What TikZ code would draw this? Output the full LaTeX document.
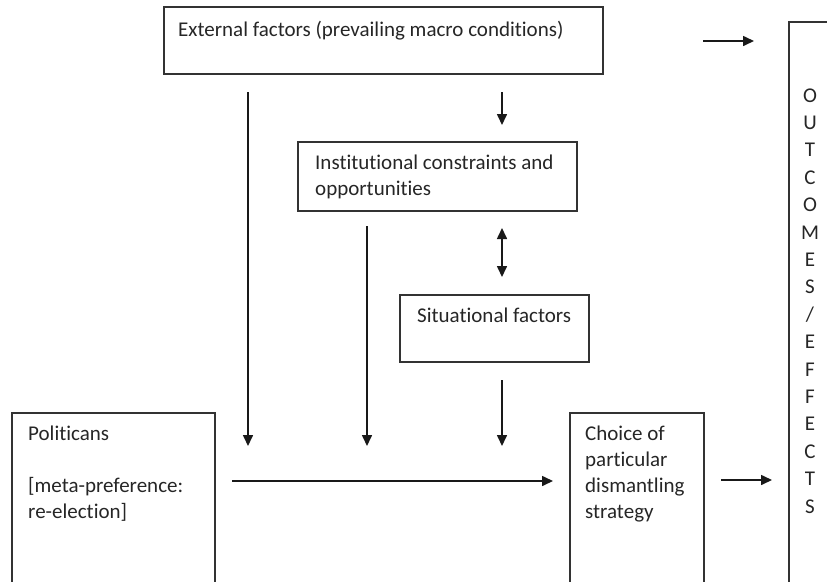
\documentclass[tikz,border=0pt]{standalone}
\usepackage{fontspec}
\setmainfont{Carlito}[Ligatures=NoCommon]
\usetikzlibrary{arrows.meta}
\begin{document}
\begin{tikzpicture}[x=1pt,y=-1pt,
  box/.style={draw=black!80,line width=1.3pt,inner sep=0pt,outer sep=0pt,anchor=north west},
  txt/.style={anchor=base west,inner sep=0pt,align=left,text=black!85,font=\fontsize{21}{26}\selectfont},
  tip/.tip={Triangle[length=11pt,width=10pt]},
  arr/.style={draw=black!90,line width=1.6pt,-tip},
  darr/.style={draw=black!90,line width=1.6pt,tip-tip}]
\useasboundingbox (0,0) rectangle (827,581);
\clip (0,0) rectangle (827,581);
% boxes
\node[box,minimum width=439pt,minimum height=67pt] (ext) at (164,7) {};
\node[box,minimum width=279pt,minimum height=69pt] (inst) at (298,142) {};
\node[box,minimum width=189pt,minimum height=67pt] (sit) at (400,295) {};
\node[box,minimum width=203pt,minimum height=220pt] (pol) at (12,413) {};
\node[box,minimum width=134pt,minimum height=220pt] (cho) at (570,413) {};
\node[box,minimum width=100pt,minimum height=620pt] (out) at (789,22) {};
% texts (multi-line texts are placed by the baseline of their last line)
\node[txt] (extT) at (178,36) {External factors (prevailing macro conditions)};
\node[txt] (instT) at (315,195) {Institutional constraints and\\opportunities};
\node[txt] (sitT) at (417,322) {Situational factors};
\node[txt] (polT) at (28,518) {Politicans\\[26pt][meta-preference:\\re-election]};
\node[txt] (choT) at (585,518) {Choice of\\particular\\dismantling\\strategy};
\node[txt,anchor=base,align=center,font=\fontsize{21}{27.4}\selectfont] (outT) at (810,513)
  {O\\U\\T\\C\\O\\M\\E\\S\\/\\E\\F\\F\\E\\C\\T\\S};
% connector end points
\coordinate (a1s) at (248,92);  \coordinate (a1e) at (248,446);
\coordinate (a2s) at (502,92);  \coordinate (a2e) at (502,125);
\coordinate (a3s) at (367,226); \coordinate (a3e) at (367,446);
\coordinate (a4s) at (502,228); \coordinate (a4e) at (502,277);
\coordinate (a5s) at (502,380); \coordinate (a5e) at (502,446);
\coordinate (a6s) at (232,481); \coordinate (a6e) at (553,481);
\coordinate (a7s) at (721,480); \coordinate (a7e) at (772,480);
\coordinate (a8s) at (703,41);  \coordinate (a8e) at (754,41);
% connectors
\draw[arr] (a1s) -- (a1e);
\draw[arr] (a2s) -- (a2e);
\draw[arr] (a3s) -- (a3e);
\draw[darr] (a4s) -- (a4e);
\draw[arr] (a5s) -- (a5e);
\draw[arr] (a6s) -- (a6e);
\draw[arr] (a7s) -- (a7e);
\draw[arr] (a8s) -- (a8e);
\end{tikzpicture}
\end{document}
